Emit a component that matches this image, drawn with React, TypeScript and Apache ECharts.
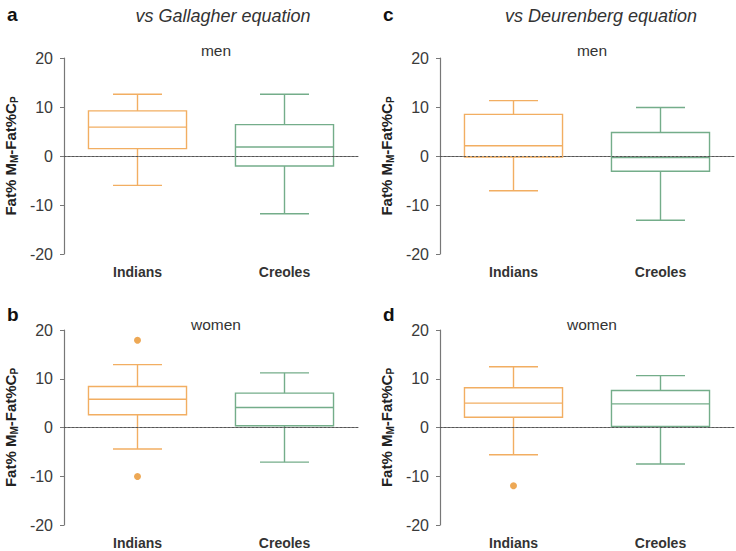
import React, { useEffect, useRef } from "react";
import * as echarts from "echarts";

const categories = ["Indians", "Creoles"];
// [min, Q1, median, Q3, max]
const menGallagher = [
  [-6.0, 1.5, 5.9, 9.2, 12.6],
  [-11.8, -2.05, 1.85, 6.4, 12.6],
];
const womenGallagher = [
  [-4.4, 2.6, 5.8, 8.4, 12.9],
  [-7.1, 0.35, 4.1, 7.05, 11.2],
];
const menDeurenberg = [
  [-7.1, -0.2, 2.1, 8.5, 11.3],
  [-13.1, -3.1, -0.3, 4.8, 9.9],
];
const womenDeurenberg = [
  [-5.6, 2.1, 5.0, 8.15, 12.45],
  [-7.5, 0.2, 4.85, 7.6, 10.65],
];
const outliersWomenGallagher = [17.9, -10.05];
const outliersWomenDeurenberg = [-11.95];
const yTicks = { min: -20, max: 20, interval: 10 };

const boxColors = ["#F2AE62", "#74AD8A"];
const dotColor = "#E8922A";
const FONT = "Liberation Sans, Arial, sans-serif";

const panels = [
  { data: menGallagher, outliers: [] as number[], left: 64, top: 58, height: 196, letter: "a", sub: "men" },
  { data: menDeurenberg, outliers: [] as number[], left: 440, top: 58, height: 196, letter: "c", sub: "men" },
  { data: womenGallagher, outliers: outliersWomenGallagher, left: 64, top: 330, height: 195, letter: "b", sub: "women" },
  { data: womenDeurenberg, outliers: outliersWomenDeurenberg, left: 440, top: 330, height: 195, letter: "d", sub: "women" },
];
const PLOT_W = 294;

export default function App() {
  const ref = useRef<HTMLDivElement>(null);
  useEffect(() => {
    if (!ref.current) return;
    const chart = echarts.init(ref.current, undefined, { renderer: "svg" });

    const grids: any[] = [];
    const xAxes: any[] = [];
    const yAxes: any[] = [];
    const series: any[] = [];
    const titles: any[] = [];

    panels.forEach((p, i) => {
      grids.push({ left: p.left, top: p.top, width: PLOT_W, height: p.height });
      xAxes.push({
        type: "category",
        gridIndex: i,
        data: categories,
        boundaryGap: true,
        axisLine: { lineStyle: { color: "#777", width: 1.2 } },
        axisTick: { alignWithLabel: true, length: 4, lineStyle: { color: "#777" } },
        axisLabel: { fontFamily: FONT, fontWeight: "bold", fontSize: 14, color: "#333", margin: 11 },
      });
      yAxes.push({
        type: "value",
        gridIndex: i,
        min: yTicks.min,
        max: yTicks.max,
        interval: yTicks.interval,
        splitLine: { show: false },
        axisLine: { show: true, lineStyle: { color: "#777", width: 1.2 } },
        axisTick: { show: true, length: 4, lineStyle: { color: "#777" } },
        axisLabel: { fontFamily: FONT, fontSize: 16, color: "#3a3a3a", margin: 11 },
        name: "{a|Fat% M}{s|M}{a|-Fat%C}{s|P}",
        nameLocation: "middle",
        nameRotate: 90,
        nameGap: 45,
        nameTextStyle: {
          rich: {
            a: { fontFamily: FONT, fontWeight: "bold", fontSize: 15, color: "#222", lineHeight: 18 },
            s: { fontFamily: FONT, fontWeight: "bold", fontSize: 10, color: "#222", lineHeight: 11, verticalAlign: "bottom" },
          },
        },
      });
      series.push({
        type: "custom",
        xAxisIndex: i,
        yAxisIndex: i,
        data: p.data.map((d, k) => [k, ...d]),
        encode: { x: 0, y: [1, 2, 3, 4, 5] },
        renderItem: (params: any, api: any) => {
          const x = api.value(0);
          const pMin = api.coord([x, api.value(1)]);
          const pQ1 = api.coord([x, api.value(2)]);
          const pMed = api.coord([x, api.value(3)]);
          const pQ3 = api.coord([x, api.value(4)]);
          const pMax = api.coord([x, api.value(5)]);
          const band = api.size([1, 0])[0];
          const bw = band * 0.667;
          const cw = band / 3;
          const cx = pMed[0];
          const color = boxColors[x];
          const st = { stroke: color, lineWidth: 1.4, fill: null };
          const ln = (x1: number, y1: number, x2: number, y2: number) => ({
            type: "line",
            shape: { x1, y1, x2, y2 },
            style: st,
          });
          return {
            type: "group",
            children: [
              { type: "rect", shape: { x: cx - bw / 2, y: pQ3[1], width: bw, height: pQ1[1] - pQ3[1] }, style: st },
              ln(cx - bw / 2, pMed[1], cx + bw / 2, pMed[1]),
              ln(cx, pQ3[1], cx, pMax[1]),
              ln(cx - cw / 2, pMax[1], cx + cw / 2, pMax[1]),
              ln(cx, pQ1[1], cx, pMin[1]),
              ln(cx - cw / 2, pMin[1], cx + cw / 2, pMin[1]),
            ],
          };
        },
        z: 3,
      });
      series.push({
        type: "scatter",
        xAxisIndex: i,
        yAxisIndex: i,
        data: p.outliers.map((v) => [0, v]),
        symbolSize: 7,
        itemStyle: { color: dotColor },
        markLine: {
          silent: true,
          symbol: ["none", "none"],
          label: { show: false },
          lineStyle: { color: "#555", type: [2, 2], width: 1 },
          data: [{ yAxis: 0 }],
        },
        z: 2,
      });
      titles.push({
        text: p.letter,
        left: p.left - 62,
        top: p.top < 100 ? 0 : p.top - 30,
        textStyle: { fontFamily: FONT, fontWeight: "bold", fontSize: 19, color: "#111" },
      });
      titles.push({
        text: p.sub,
        left: p.left + PLOT_W / 2,
        textAlign: "center",
        top: p.top < 100 ? p.top - 21 : p.top - 19,
        textStyle: { fontFamily: FONT, fontWeight: "normal", fontSize: 15.5, color: "#333" },
      });
    });
    titles.push({
      text: "vs Gallagher equation",
      left: 218,
      textAlign: "center",
      top: 2,
      textStyle: { fontFamily: FONT, fontStyle: "italic", fontWeight: "normal", fontSize: 18, color: "#333" },
    });
    titles.push({
      text: "vs Deurenberg equation",
      left: 596,
      textAlign: "center",
      top: 2,
      textStyle: { fontFamily: FONT, fontStyle: "italic", fontWeight: "normal", fontSize: 18, color: "#333" },
    });

    chart.setOption({
      animation: false,
      backgroundColor: "#fff",
      title: titles,
      grid: grids,
      xAxis: xAxes,
      yAxis: yAxes,
      series,
    });
    return () => chart.dispose();
  }, []);
  return <div ref={ref} style={{ width: 736, height: 551, position: "absolute", left: 0, top: 0 }} />;
}
